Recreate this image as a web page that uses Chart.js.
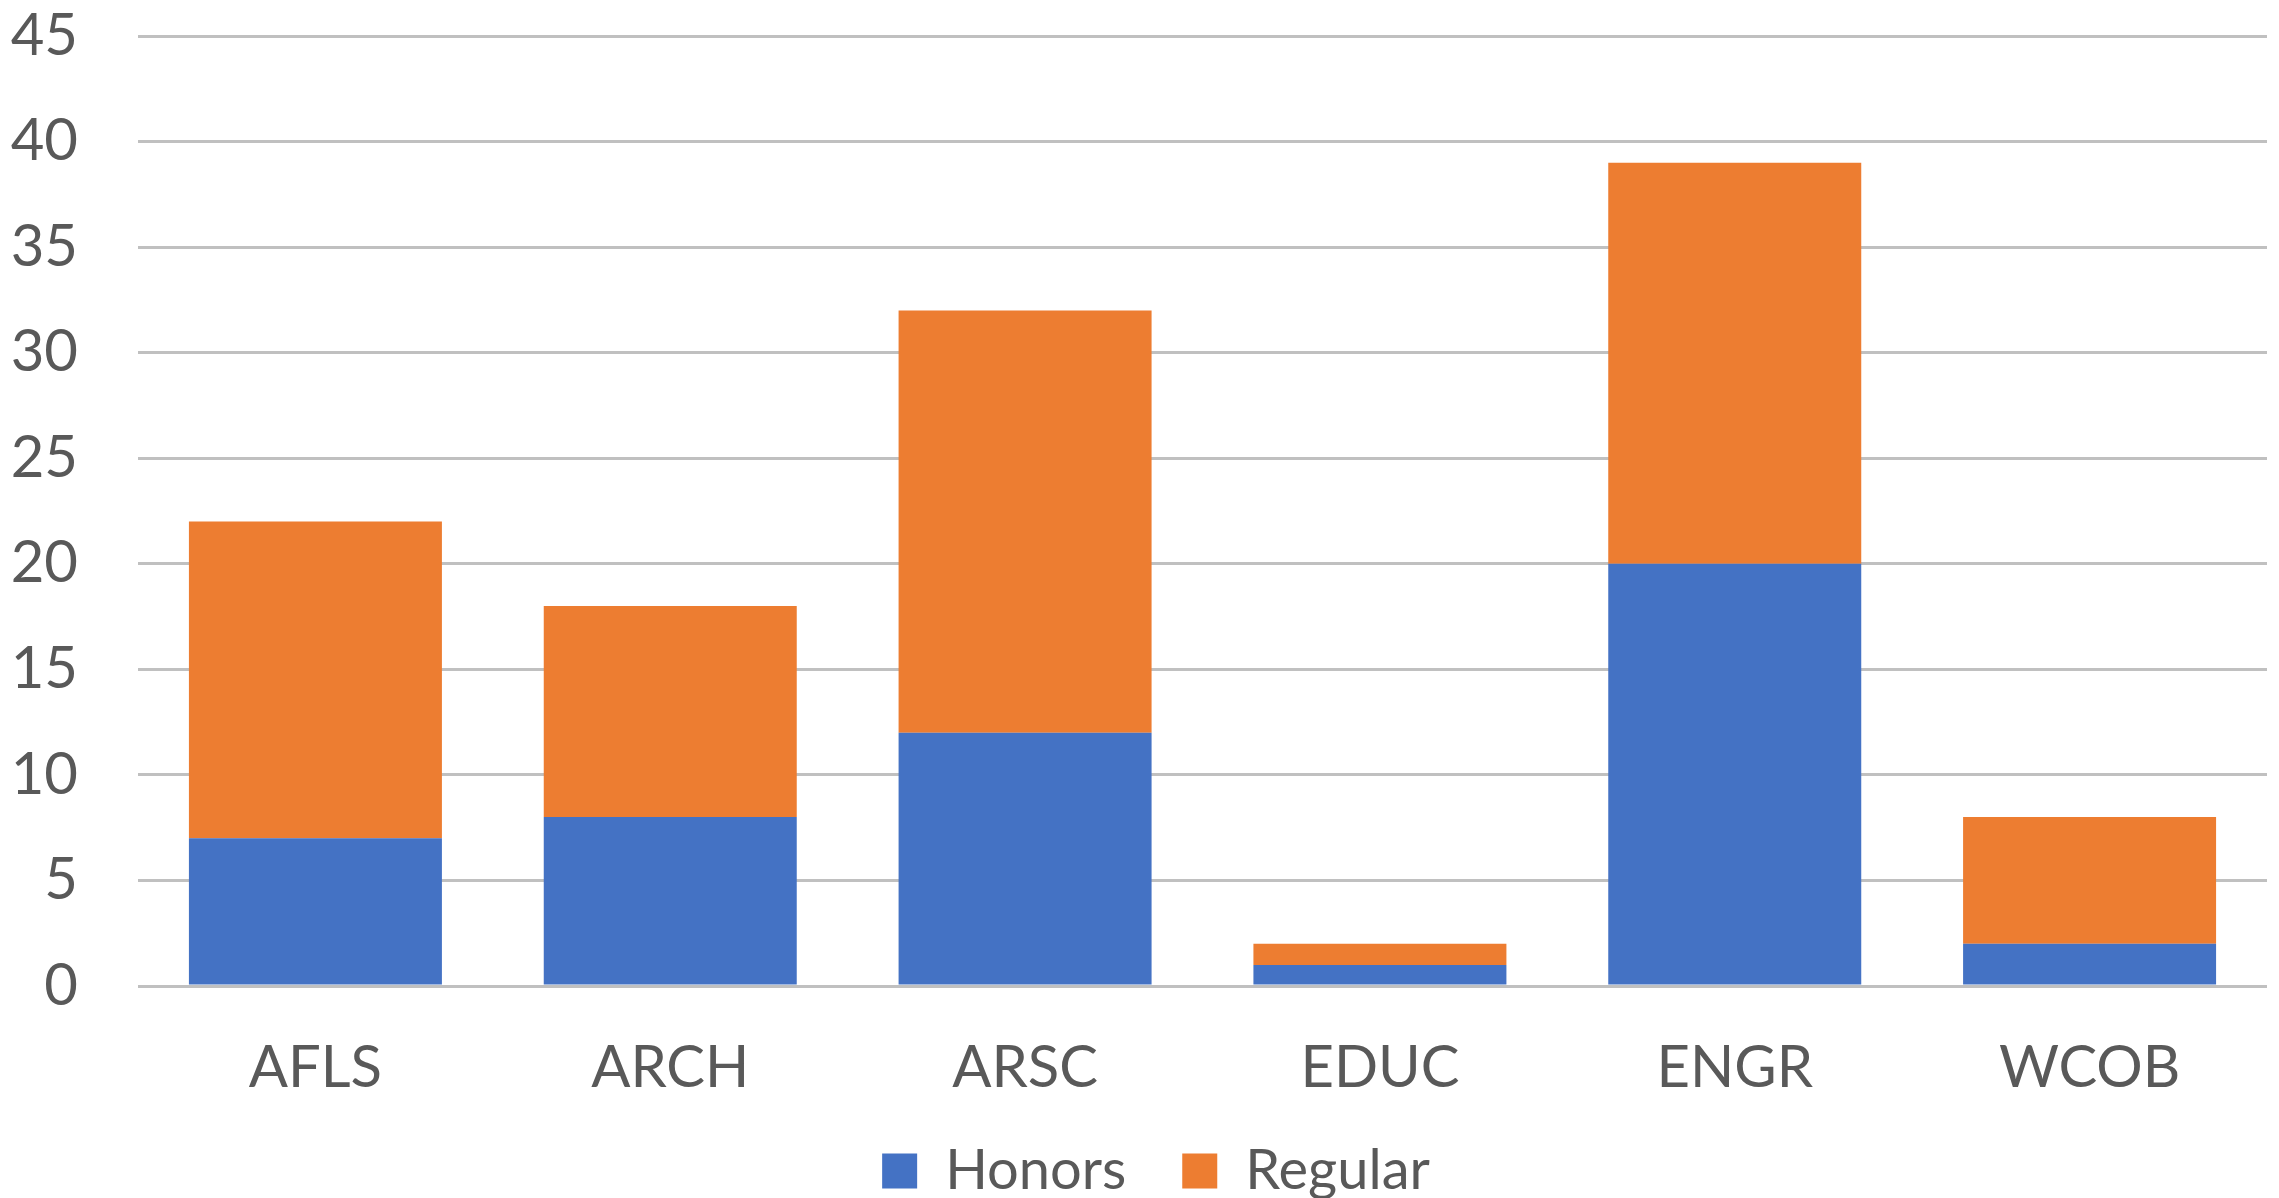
<!DOCTYPE html>
<html>
<head>
<meta charset="utf-8">
<script src="https://cdn.jsdelivr.net/npm/chart.js@4.4.1/dist/chart.umd.min.js"></script>
<style>
  html, body { margin: 0; padding: 0; background: #fff; }
  #wrap { width: 2279px; height: 1198px; }
</style>
</head>
<body>
<div id="wrap"><canvas id="chart" width="2279" height="1198"></canvas></div>
<script>
const categories = ['AFLS', 'ARCH', 'ARSC', 'EDUC', 'ENGR', 'WCOB'];
const honors = [7, 8, 12, 1, 20, 2];
const regular = [15, 10, 20, 1, 19, 6];
const yTicks = [0, 5, 10, 15, 20, 25, 30, 35, 40, 45];

const textColor = '#595959';
const fontFamily = "Lato, 'Liberation Sans', sans-serif";

// fix the legend box height and put it where Excel put it
const legendShift = {
    id: 'legendShift',
    beforeLayout(chart) {
        const lg = chart.legend;
        if (lg && !lg._patched) {
            const orig = lg.fit;
            lg.fit = function () {
                orig.call(this);
                this.height = 111;
            };
            lg._patched = true;
        }
    },
    afterLayout(chart) {
        const lg = chart.legend;
        const pad = lg.options.labels.padding;
        const w = lg.right - lg.left;
        const visible = lg.lineWidths[0] - pad;
        lg.left = 1156 - pad - visible / 2;
        lg.right = lg.left + w;
    }
};

const ctx = document.getElementById('chart').getContext('2d');
new Chart(ctx, {
    type: 'bar',
    data: {
        labels: categories,
        datasets: [{
            label: 'Honors',
            data: honors,
            backgroundColor: '#4472C4'
        }, {
            label: 'Regular',
            data: regular,
            backgroundColor: '#ED7D31'
        }]
    },
    options: {
        responsive: false,
        animation: false,
        layout: { padding: { top: 36, right: 12, left: 0, bottom: 0 } },
        datasets: {
            bar: { categoryPercentage: 0.713, barPercentage: 1 }
        },
        scales: {
            x: {
                stacked: true,
                grid: { display: false, drawTicks: false },
                border: { display: false },
                ticks: {
                    color: textColor,
                    font: { family: fontFamily, size: 58 },
                    padding: 47
                },
                afterFit(scale) {
                    scale.height = 101;
                    scale.paddingLeft = 0;
                    scale.paddingRight = 0;
                }
            },
            y: {
                stacked: true,
                min: 0,
                max: 45,
                afterBuildTicks(scale) { scale.ticks = yTicks.map(v => ({ value: v })); },
                grid: { color: '#C0C0C0', lineWidth: 3, drawTicks: false },
                border: { display: false },
                ticks: {
                    color: textColor,
                    font: { family: fontFamily, size: 58 },
                    padding: 60
                },
                afterFit(scale) {
                    scale.width = 138;
                    scale.paddingTop = 0;
                    scale.paddingBottom = 0;
                }
            }
        },
        plugins: {
            tooltip: { enabled: false },
            legend: {
                position: 'bottom',
                align: 'start',
                labels: {
                    color: textColor,
                    font: { family: fontFamily, size: 56 },
                    boxWidth: 35,
                    boxHeight: 35,
                    padding: 56
                }
            }
        }
    },
    plugins: [legendShift]
});
</script>
</body>
</html>
